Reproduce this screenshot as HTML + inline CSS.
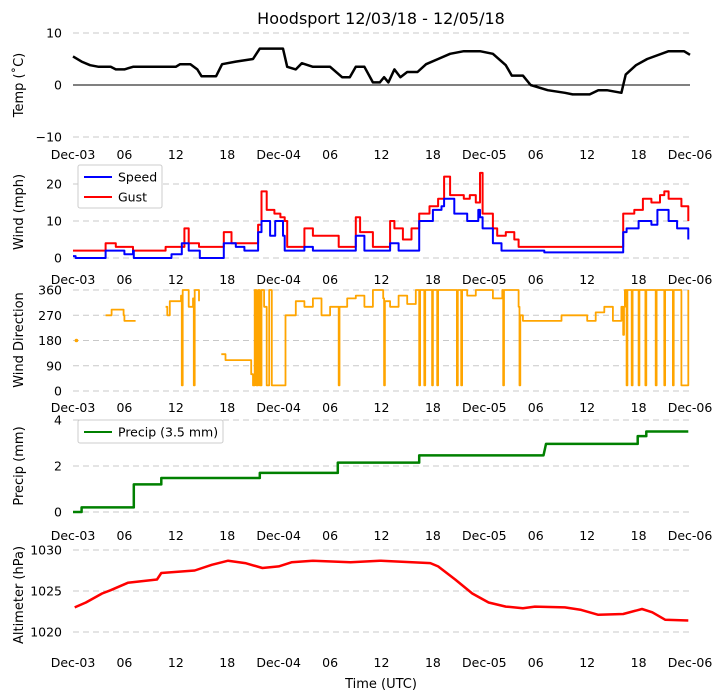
<!DOCTYPE html>
<html><head><meta charset="utf-8"><style>
html,body{margin:0;padding:0;background:#fff;}
svg{display:block;font-family:"DejaVu Sans","Liberation Sans",sans-serif;}
</style></head><body>
<svg id="chart" width="723" height="700" viewBox="0 0 723 700">
<text x="381" y="24" text-anchor="middle" font-size="16" fill="#000">Hoodsport 12/03/18 - 12/05/18</text>
<text x="381" y="688" text-anchor="middle" font-size="13" fill="#000">Time (UTC)</text>
</svg>
<script>
// ---- data (hours since Dec-03 00 UTC) ----
const xTickLabels = ["Dec-03","06","12","18","Dec-04","06","12","18","Dec-05","06","12","18","Dec-06"];
const xTickHours = [0,6,12,18,24,30,36,42,48,54,60,66,72];

const tempHours = [0,1,2,3,4.4,5,6,7,10,12,12.5,13.7,14.5,15,16.7,17.4,19,21,21.8,24.5,25,26,26.7,28,30,31.4,32.3,33,34,35,35.8,36.3,36.8,37.5,38.2,39,40.2,41.2,42.6,44,45.6,47.5,49,50.5,51.2,52.5,53.4,55.4,57.4,58.3,60.3,61.3,62.3,64,64.5,65.7,67,69.5,71.3,72];
const tempValues = [5.5,4.5,3.8,3.5,3.5,3,3,3.5,3.5,3.5,4,4,3,1.7,1.7,4,4.5,5,7,7,3.5,3,4.2,3.5,3.5,1.5,1.5,3.5,3.5,0.5,0.5,1.5,0.5,3,1.5,2.5,2.5,4,5,6,6.5,6.5,6,3.8,1.8,1.8,0,-1,-1.5,-1.8,-1.8,-1,-1,-1.5,2,3.8,5,6.5,6.5,5.8];

const speedHours = [0,0.3,0.6,3.7,3.8,5,6,7,7.1,10.8,11.5,12.7,13.5,14.7,14.8,17.4,17.6,19,20,21.3,21.6,22,23,23.6,24.5,24.7,27,28,31,33,34,37,38,40.2,40.4,41,42,43,43.3,44.5,46,47.3,47.5,47.8,49,50,55,60,64,64.2,64.6,66,67.5,68.2,69.5,70.5,71.8];
const speedValues = [0.5,0,0,0,2,2,1,2,0,0,1,4,2,2,0,0,4,3,2,2,7,10,6,10,6,2,3,2,2,6,2,4,2,2,10,10,13,14,16,12,10,13,11,8,4,2,1.5,1.5,1.5,7,8,10,9,13,10,8,5];

const gustHours = [0,0.5,0.7,3.7,3.8,5,6,7,7.1,10.8,11.5,13,13.5,14.7,14.8,17.4,17.6,18.5,20,21.3,21.6,22,22.6,23.5,24.2,24.7,25,27,28,30,31,33,33.5,35,37,37.5,38.5,39.5,40.2,40.4,41.6,42.6,43.3,44,45.6,46.3,47,47.5,47.8,49,49.5,50.5,51.5,52,64,64.2,65.5,66.5,67.5,68.5,69,69.5,71,71.8];
const gustValues = [2,2,2,2,4,3,3,2,2,3,3,8,4,3,3,3,7,4,4,4,9,18,13,12,11,10,3,8,6,6,3,11,7,3,10,8,5,8,8,12,14,16,22,17,16,17,15,23,12,8,6,7,5,3,3,12,13,16,15,17,18,16,14,10];

const dirHours = [3.8,4.5,5.9,6,7.3,null,10.8,11,11.3,12.6,12.7,12.8,13.5,14,14.1,14.2,14.7,null,17.3,17.8,18,20.6,20.8,21,21.2,21.4,21.6,21.8,22,22.3,22.6,22.9,23.2,23.4,24,24.8,25,26,27,28,29,30,30.9,31,31.1,32,33,34,35,36.2,36.3,36.4,37,38,39,40,40.3,40.4,40.5,40.9,41,41.1,41.8,41.9,42,42.4,42.5,42.6,43,44,44.7,44.8,44.9,45.2,45.3,45.4,46,47,48,49,50.1,50.2,50.3,52,52.1,52.2,52.5,53,54,55,57,59,59.5,60,61,62,63,64,64.2,64.3,64.4,64.6,64.7,64.8,65.2,65.3,65.4,66,66.1,66.2,66.8,66.9,67,68,68.1,68.2,69,69.1,69.2,70,70.1,70.2,71,71.8];
const dirValues = [270,290,270,250,250,null,300,270,320,340,20,360,300,330,20,360,320,null,131,110,110,110,60,20,360,20,360,20,360,300,20,360,20,20,20,270,270,320,300,330,270,300,300,20,300,330,340,300,360,330,20,320,300,340,310,360,360,20,360,360,20,360,360,20,360,360,20,360,360,360,360,20,360,360,20,360,340,360,360,330,360,20,360,300,20,270,250,250,250,250,270,270,270,250,280,300,250,300,200,300,360,20,360,360,20,360,360,20,360,360,20,360,360,20,360,360,20,360,360,20,360,360,20,360,340,330];

const precipHours = [0,1,1,7.1,7.1,10.3,10.3,21.8,21.8,30.9,30.9,40.4,40.4,54.9,55.1,55.2,65.9,65.9,66.9,66.9,71.8];
const precipValues = [0,0,0.2,0.2,1.2,1.2,1.48,1.48,1.7,1.7,2.15,2.15,2.46,2.46,2.8,2.96,2.96,3.3,3.3,3.5,3.5];

const altHours = [0.2,1.5,3.4,4.4,6.4,9.8,10.3,14.2,16.2,18.1,20.1,22.1,24,25.5,28,32.4,35.8,41.7,42.6,44.6,46.6,48.5,50.5,52.5,53.9,57.4,59.3,61.3,64.2,66.4,67.6,69.1,71.8];
const altValues = [1023,1023.6,1024.7,1025.1,1026,1026.4,1027.2,1027.5,1028.2,1028.7,1028.4,1027.8,1028,1028.5,1028.7,1028.5,1028.7,1028.4,1028,1026.4,1024.7,1023.6,1023.1,1022.9,1023.1,1023,1022.7,1022.1,1022.2,1022.8,1022.4,1021.5,1021.4];

// ---- drawing ----
const svg = document.getElementById('chart');
const NS = 'http://www.w3.org/2000/svg';
const X0 = 73, X1 = 690;
function xScale(h){ return X0 + h*(X1-X0)/72; }
function mk(tag, attrs){ const e=document.createElementNS(NS,tag); for(const k in attrs) e.setAttribute(k,attrs[k]); svg.appendChild(e); return e; }
function yLin(v0,p0,v1,p1){ return v=> p0 + (v-v0)*(p1-p0)/(v1-v0); }

const panels = [
 {key:'temp', title:'Temp (˚C)', ticks:[10,0,-10], tl:['10','0','−10'], y:yLin(10,33,-10,137), xl:159, ty:85},
 {key:'wind', title:'Wind (mph)', ticks:[20,10,0], tl:['20','10','0'], y:yLin(0,258,20,184), xl:284, ty:212},
 {key:'dir', title:'Wind Direction', ticks:[360,270,180,90,0], tl:['360','270','180','90','0'], y:yLin(0,391,360,290), xl:412, ty:340},
 {key:'precip', title:'Precip (mm)', ticks:[4,2,0], tl:['4','2','0'], y:yLin(0,512,4,420), xl:540, ty:466},
 {key:'alt', title:'Altimeter (hPa)', ticks:[1030,1025,1020], tl:['1030','1025','1020'], y:yLin(1020,632,1030,550), xl:667, ty:595}
];

panels.forEach(p=>{
  p.ticks.forEach((t,i)=>{
    const y=p.y(t);
    const g=mk('line',{x1:X0,x2:X1,y1:y,y2:y,stroke:'#c8c8c8','stroke-width':1,'stroke-dasharray':'6,4'});
    
    
    const tx=mk('text',{x:62,y:y+4.5,'text-anchor':'end','font-size':12.5,fill:'#000'});
    tx.textContent=p.tl[i];
    
    
  });
  const yt=mk('text',{x:0,y:0,'text-anchor':'middle','font-size':13,fill:'#000',transform:`translate(23,${p.ty}) rotate(-90)`});
  yt.textContent=p.title;
  
  
  xTickHours.forEach((h,i)=>{
    const lbl=xTickLabels[i];
    const tx=mk('text',{x:xScale(h),y:p.xl,'text-anchor':'middle','font-size':12.5,fill:'#000'});
    tx.textContent=lbl;
    
    
  });
});

const zl=mk('line',{x1:X0,x2:X1,y1:panels[0].y(0),y2:panels[0].y(0),stroke:'#000','stroke-width':1});



function series(hours, vals, yf, color, name, sw, step){
  let d='', pen=false;
  for(let i=0;i<hours.length;i++){
    if(hours[i]===null||vals[i]===null){pen=false;continue;}
    const x=xScale(hours[i]).toFixed(1), y=yf(vals[i]).toFixed(1);
    if(!pen){ d+='M'+x+','+y; }
    else if(step){ d+='H'+x+'V'+y; }
    else { d+='L'+x+','+y; }
    pen=true;
  }
  const pth=mk('path',{d:d,fill:'none',stroke:color,'stroke-width':sw||2,'stroke-linejoin':'round'});
  
  
}
series(tempHours,tempValues,panels[0].y,'#000','temp-line',2.5,false);
series(gustHours,gustValues,panels[1].y,'#ff0000','gust-line',2,true);
series(speedHours,speedValues,panels[1].y,'#0000ff','speed-line',2,true);
series(dirHours,dirValues,panels[2].y,'#ffa500','wind-direction-line',1.8,true);
const dot=mk('circle',{cx:xScale(0.4),cy:panels[2].y(180),r:1.8,fill:'#ffa500'});


series(precipHours,precipValues,panels[3].y,'#008000','precip-line',2.5,false);
series(altHours,altValues,panels[4].y,'#ff0000','altimeter-line',2.5,false);

function legend(x,y,w,h,items,name){
  const r=mk('rect',{x:x,y:y,width:w,height:h,rx:2,fill:'#fff',stroke:'#ccc','stroke-width':1});
  
  
  items.forEach((it,i)=>{
    const yy=y+12+i*20;
    const l=mk('line',{x1:x+6,x2:x+34,y1:yy,y2:yy,stroke:it[1],'stroke-width':2});
    
    
    const t=mk('text',{x:x+40,y:yy+4.5,'font-size':12.5,fill:'#000'});
    t.textContent=it[0];
    
    
  });
}
legend(78,165,84,43,[['Speed','#0000ff'],['Gust','#ff0000']],'wind-legend');
legend(78,420,145,23,[['Precip (3.5 mm)','#008000']],'precip-legend');
</script>
</body></html>
